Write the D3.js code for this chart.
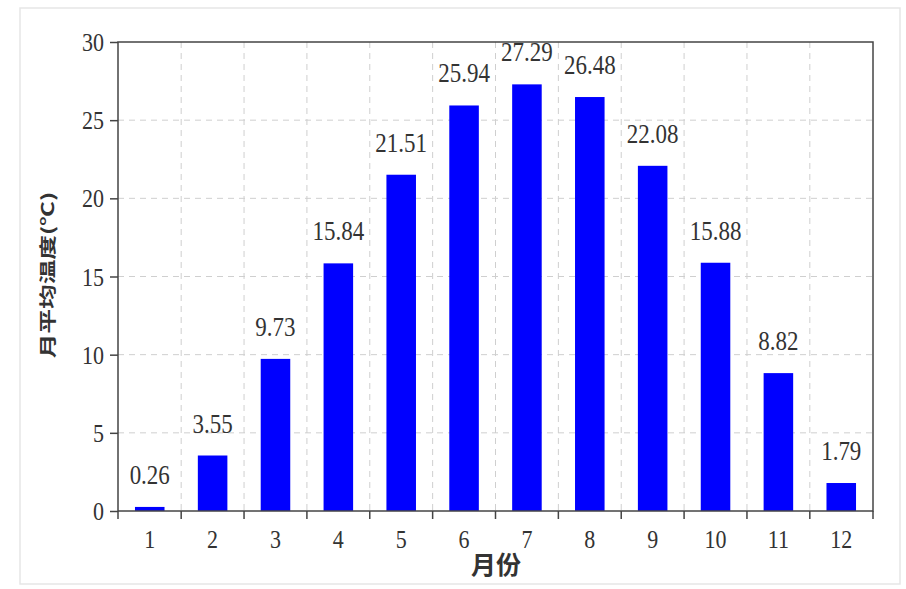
<!DOCTYPE html>
<html><head><meta charset="utf-8">
<script src="https://cdn.jsdelivr.net/npm/d3@7"></script>
<style>body{margin:0;background:#fff}</style>
</head><body>
<svg id="c" width="906" height="589"></svg>
<script>
const months = ["1","2","3","4","5","6","7","8","9","10","11","12"];
const temps = [0.26,3.55,9.73,15.84,21.51,25.94,27.29,26.48,22.08,15.88,8.82,1.79];
const yTicks = [0,5,10,15,20,25,30];

const svg = d3.select("#c");
const m = {l:118, r:873, t:42, b:511};
svg.append("rect").attr("x",20).attr("y",8).attr("width",880).attr("height",576)
  .attr("fill","#fff").attr("stroke","#e6e6e6").attr("stroke-width",1.5);

const x = d3.scaleBand().domain(months).range([m.l,m.r]).paddingInner(0.53).paddingOuter(0.27);
const y = d3.scaleLinear().domain([0,30]).range([m.b,m.t]);
const serif = "'Liberation Serif','Times New Roman',serif";
const sy = 1.18;

// grid
svg.append("g").selectAll("line").data(yTicks.slice(1,-1)).join("line")
  .attr("x1",m.l).attr("x2",m.r).attr("y1",d=>y(d)).attr("y2",d=>y(d))
  .attr("stroke","#cfcfcf").attr("stroke-dasharray","6,5");
const bounds = months.slice(1).map((d,i)=>(x(d) + x(months[i]) + x.bandwidth())/2);
svg.append("g").selectAll("line").data(bounds).join("line")
  .attr("x1",d=>d).attr("x2",d=>d).attr("y1",m.t).attr("y2",m.b)
  .attr("stroke","#cfcfcf").attr("stroke-dasharray","6,5");

// bars
svg.append("g").selectAll("rect").data(temps).join("rect")
  .attr("x",(d,i)=>x(months[i])).attr("y",d=>y(d))
  .attr("width",x.bandwidth()).attr("height",d=>m.b-y(d)).attr("fill","#0000ff");

// labels
svg.append("g").selectAll("text").data(temps).join("text")
  .attr("transform",(d,i)=>`translate(${x(months[i])+x.bandwidth()/2},${y(d)-23}) scale(1,${sy})`)
  .attr("text-anchor","middle").attr("font-family",serif).attr("font-size",23)
  .attr("fill","#333").text(d=>d.toFixed(2));

// frame
svg.append("rect").attr("x",m.l).attr("y",m.t).attr("width",m.r-m.l).attr("height",m.b-m.t)
  .attr("fill","none").attr("stroke","#444").attr("stroke-width",1.5);

// y axis
const ya = svg.append("g").attr("transform",`translate(${m.l},0)`)
  .call(d3.axisLeft(y).tickValues(yTicks).tickSize(8).tickPadding(6));
ya.select(".domain").remove();
ya.selectAll("line").attr("stroke","#444").attr("stroke-width",1.5);
ya.selectAll("text").attr("font-family",serif).attr("font-size",22).attr("fill","#333")
  .attr("dy",null).attr("dominant-baseline","central")
  .attr("transform",`translate(-14,0) scale(1,${sy})`).attr("x",0);

// x axis: ticks at band boundaries, labels at centers
const xa = svg.append("g");
xa.selectAll("line").data([m.l, ...bounds, m.r]).join("line")
  .attr("x1",d=>d).attr("x2",d=>d).attr("y1",m.b).attr("y2",m.b+8)
  .attr("stroke","#444").attr("stroke-width",1.5);
xa.selectAll("text").data(months).join("text")
  .attr("transform",d=>`translate(${x(d)+x.bandwidth()/2},${m.b+37}) scale(1,${sy})`)
  .attr("text-anchor","middle").attr("font-family",serif).attr("font-size",22)
  .attr("fill","#333").text(d=>d);

svg.append("text").attr("x",496).attr("y",574).attr("text-anchor","middle")
  .attr("font-family","'Noto Sans CJK SC',sans-serif").attr("font-size",25).attr("font-weight","bold")
  .attr("fill","#333").text("月份");
svg.append("text").attr("transform","translate(54,275) rotate(-90) scale(1.45,1)").attr("text-anchor","middle")
  .attr("font-family","'Noto Sans CJK SC',sans-serif").attr("font-size",17).attr("font-weight","bold")
  .attr("fill","#333").text("月平均温度(℃)");
</script>
</body></html>
